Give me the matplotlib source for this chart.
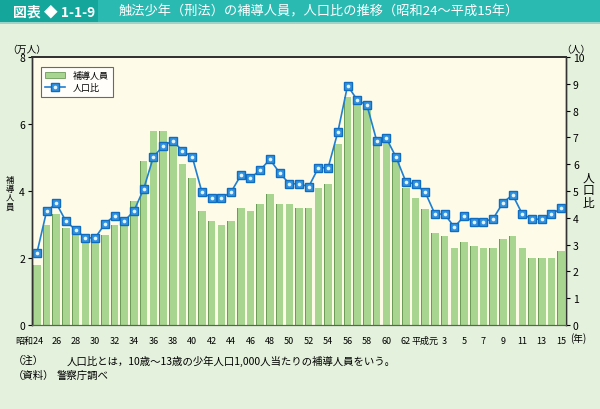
import matplotlib
matplotlib.use("Agg")
import matplotlib.pyplot as plt
from matplotlib.patches import Rectangle, Patch
import matplotlib.transforms as mtransforms

plt.rcParams['font.family'] = ['Noto Sans CJK JP', 'DejaVu Sans']

# ---- data ----
year_labels = ([str(y) for y in range(24, 64)] +
               ['平成元'] + [str(y) for y in range(2, 16)])
persons = [1.8, 3.0, 3.3, 2.9, 2.7, 2.5, 2.5, 2.7, 3.0, 3.0,
           3.7, 4.9, 5.8, 5.8, 5.4, 4.8, 4.4, 3.4, 3.1, 3.0,
           3.1, 3.5, 3.4, 3.6, 3.9, 3.6, 3.6, 3.5, 3.5, 4.1,
           4.2, 5.4, 6.8, 6.6, 6.45, 5.45, 5.55, 4.95, 4.1, 3.8,
           3.45, 2.75, 2.66, 2.3, 2.47, 2.37, 2.3, 2.3, 2.58, 2.67,
           2.3, 2.0, 2.0, 2.0, 2.2]
ratio = [2.68, 4.24, 4.54, 3.87, 3.55, 3.25, 3.25, 3.77, 4.08, 3.87,
         4.26, 5.07, 6.27, 6.68, 6.88, 6.49, 6.28, 4.96, 4.74, 4.74,
         4.96, 5.58, 5.48, 5.78, 6.18, 5.68, 5.27, 5.27, 5.16, 5.87,
         5.87, 7.2, 8.93, 8.4, 8.2, 6.88, 6.97, 6.26, 5.35, 5.25,
         4.95, 4.14, 4.14, 3.65, 4.06, 3.85, 3.85, 3.97, 4.56, 4.86,
         4.14, 3.95, 3.95, 4.14, 4.35]
left_ticks = [0, 2, 4, 6, 8]
right_ticks = list(range(0, 11))

title_label = '図表 ◆ 1-1-9'
title_text = '触法少年（刑法）の補導人員，人口比の推移（昭和24～平成15年）'
note1 = '（注）'
note1b = '人口比とは，10歳～13歳の少年人口1,000人当たりの補導人員をいう。'
note2 = '（資料）'
note2b = '警察庁調べ'

BG = '#e4f1dc'
PLOT_BG = '#fffbe9'
BAR = '#a8d58f'
BAR_DARK = '#6c9d58'
LINE = '#1f7fd0'

fig = plt.figure(figsize=(6, 4.1), dpi=100)
fig.patch.set_facecolor(BG)

# title bar
fig.add_artist(Rectangle((0, 1 - 23 / 410), 1, 23 / 410, transform=fig.transFigure,
                         facecolor='#2bbab2', edgecolor='none'))
fig.add_artist(Rectangle((0, 1 - 23 / 410), 98 / 600, 23 / 410, transform=fig.transFigure,
                         facecolor='#14a59b', edgecolor='none'))
fig.add_artist(Rectangle((0, 1 - 25 / 410), 1, 2 / 410, transform=fig.transFigure,
                         facecolor='#9fd3c9', edgecolor='none'))
fig.text(13 / 600, 1 - 12 / 410, title_label, color='white', fontsize=10,
         fontweight='bold', va='center', ha='left')
fig.text(119 / 600, 1 - 12 / 410, title_text, color='white', fontsize=9.5,
         va='center', ha='left')

ax = fig.add_axes([32 / 600, 1 - 326 / 410, 534 / 600, 268 / 410])
ax.set_facecolor(PLOT_BG)
x = list(range(len(persons)))
ax.bar(x, persons, width=0.78, color=BAR, edgecolor='none', zorder=2)
ax.bar([i - 0.39 + 0.04 for i in x], persons, width=0.08, color=BAR_DARK,
       edgecolor='none', zorder=3)
ax.set_xlim(-0.5, len(persons) - 0.5)
ax.set_ylim(0, 8)
ax.set_yticks(left_ticks)
ax.tick_params(axis='y', direction='out', length=3, labelsize=7.5, pad=2)

tick_pos = [i for i in range(0, len(year_labels), 2)]
ax.set_xticks(tick_pos)
ax.set_xticklabels(['昭和' + year_labels[0]] + [year_labels[i] for i in tick_pos[1:]])
ax.tick_params(axis='x', length=0, labelsize=6.5, pad=8)
lbls = ax.get_xticklabels()
lbls[0].set_horizontalalignment('right')
lbls[0].set_transform(lbls[0].get_transform() +
                      mtransforms.ScaledTranslation(5 / 72, 0, fig.dpi_scale_trans))

for s in ax.spines.values():
    s.set_color('#333333')
    s.set_linewidth(1.0)
ax.spines['top'].set_linewidth(1.4)
ax.spines['bottom'].set_color('#556655')
ax.spines['bottom'].set_linewidth(0.8)

ax2 = ax.twinx()
ax2.set_ylim(0, 10)
ax2.set_yticks(right_ticks)
ax2.tick_params(axis='y', direction='out', length=3, labelsize=7.5, pad=2)
ln, = ax2.plot(x, ratio, color=LINE, lw=1.2, marker='s', ms=6.2,
               mfc='#3593de', mec='#0f6cc0', mew=1.0, zorder=5)
dots, = ax2.plot(x, ratio, ls='none', marker='o', ms=2.6, mfc='#e2f3ff',
                 mec='none', zorder=6)
for s in ax2.spines.values():
    s.set_color('#333333')
    s.set_linewidth(1.0)
ax2.spines['top'].set_linewidth(1.4)
ax2.spines['bottom'].set_color('#556655')
ax2.spines['bottom'].set_linewidth(0.8)

leg = ax2.legend([Patch(facecolor=BAR, edgecolor=BAR_DARK, lw=0.6), (ln, dots)],
                 ['補導人員', '人口比'], loc='upper left',
                 bbox_to_anchor=(0.008, 0.98), fontsize=6.5, frameon=True,
                 fancybox=False, borderpad=0.5, handlelength=2.2,
                 handletextpad=0.8, labelspacing=0.3)
leg.get_frame().set_edgecolor('#444444')
leg.get_frame().set_linewidth(0.8)
leg.get_frame().set_facecolor('white')

# axis unit labels
fig.text(27 / 600, 1 - 50 / 410, '（万人）', fontsize=7, ha='center', va='center')
fig.text(576 / 600, 1 - 50 / 410, '（人）', fontsize=7, ha='center', va='center')
fig.text(10 / 600, 1 - 194 / 410, '補\n導\n人\n員', fontsize=6, ha='center',
         va='center', linespacing=1.0)
fig.text(588 / 600, 1 - 191 / 410, '人\n口\n比', fontsize=8.5, ha='center',
         va='center', linespacing=1.0)
fig.text(578 / 600, 1 - 339 / 410, '(年)', fontsize=7, ha='center', va='center')

# notes
fig.text(13 / 600, 1 - 361 / 410, note1, fontsize=7.5, ha='left', va='center')
fig.text(67 / 600, 1 - 361 / 410, note1b, fontsize=7.5, ha='left', va='center')
fig.text(13 / 600, 1 - 376 / 410, note2, fontsize=7.5, ha='left', va='center')
fig.text(57 / 600, 1 - 376 / 410, note2b, fontsize=7.5, ha='left', va='center')

fig.savefig('out.png', dpi=100, facecolor=BG)
